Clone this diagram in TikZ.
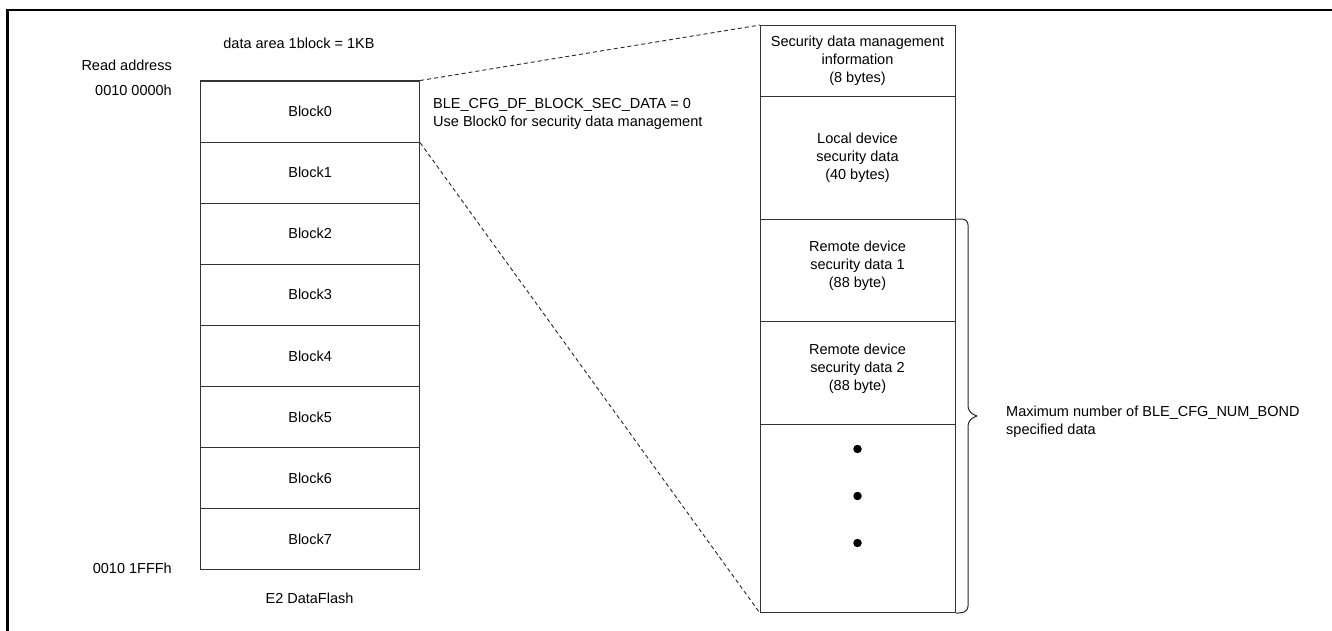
\documentclass[tikz,border=0pt]{standalone}
\usepackage{fontspec}
\setmainfont{Liberation Sans}
\begin{document}
\begin{tikzpicture}[x=1pt,y=-1pt,
  every node/.style={font=\fontsize{14.5}{18}\selectfont, inner sep=0pt, text=black},
  blk/.style={draw=black!80, line width=1.2pt, minimum width=219pt, minimum height=61.06pt, anchor=north west},
  sect/.style={draw=black!80, line width=1.2pt, minimum width=195pt, anchor=north west},
  lbl/.style={align=center},
  zoomline/.style={dash pattern=on 4pt off 3pt, line width=0.9pt, black!85},
  dotc/.style={circle, fill=black, minimum size=8.5pt}
]
\useasboundingbox (0,0) rectangle (1332,631);
% frame
\draw[line width=2.5pt] (7.7,631) -- (7.7,10) -- (1332,10);

% left blocks
\foreach \i in {0,...,7}{
  \node[blk] (b\i) at (200,{80.5+61.06*\i}) {};
  \node[lbl] (t\i) at (b\i.center) {Block\i};
}
\node[lbl] (areatxt) at (299,43) {data area 1block = 1KB};
\node[anchor=east] (readaddr) at (172,65) {Read address};
\node[anchor=east] (addr0) at (172,90.7) {0010 0000h};
\node[anchor=east] (addr1) at (172,568) {0010 1FFFh};
\node[lbl] (e2) at (309.5,598) {E2 DataFlash};
\node[anchor=west, align=left] (cfg) at (433,113.5) {BLE\_CFG\_DF\_BLOCK\_SEC\_DATA = 0\\Use Block0 for security data management};

% right sections
\node[sect, minimum height=71pt] (s1) at (760,25) {};
\node[sect, minimum height=123pt] (s2) at (760,96) {};
\node[sect, minimum height=102pt] (s3) at (760,219) {};
\node[sect, minimum height=103pt] (s4) at (760,321) {};
\node[sect, minimum height=188pt] (s5) at (760,424) {};

\node[lbl] (s1t) at (857.5,61) {Security data management\\information\\(8 bytes)};
\node[lbl] (s2t) at (857.5,158) {Local device\\security data\\(40 bytes)};
\node[lbl] (s3t) at (857.5,266) {Remote device\\security data 1\\(88 byte)};
\node[lbl] (s4t) at (857.5,368.5) {Remote device\\security data 2\\(88 byte)};

\node[dotc] (d1) at (857.5,449) {};
\node[dotc] (d2) at (857.5,496) {};
\node[dotc] (d3) at (857.5,543) {};

% zoom lines
\draw[zoomline] (b0.north east) -- (s1.north west);
\draw[zoomline] (b0.south east) -- (s5.south west);

% brace
\coordinate (brtop) at (s3.north east);
\coordinate (brbot) at (s5.south east);
\coordinate (brtip) at (977,416);
\draw[black!85, line width=1pt, rounded corners=6pt]
  (brtop) -- (968,219) -- (968,412) -- (brtip);
\draw[black!85, line width=1pt, rounded corners=6pt]
  (brtip) -- (968,420) -- (968,612) -- (brbot);
\node[anchor=west, align=left] (maxtxt) at (1006,422) {Maximum number of BLE\_CFG\_NUM\_BOND\\specified data};
\end{tikzpicture}
\end{document}
